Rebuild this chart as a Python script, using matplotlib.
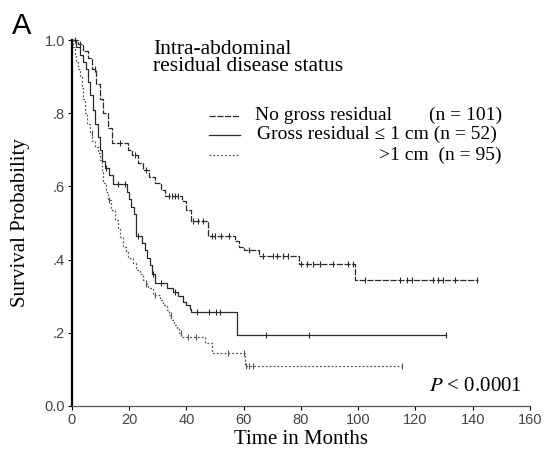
# Kaplan-Meier curves, intra-abdominal residual disease status
import numpy as np
import matplotlib
matplotlib.use("Agg")
import matplotlib.pyplot as plt

plt.rcParams['font.family'] = ['Liberation Serif', 'DejaVu Serif']
plt.rcParams['mathtext.fontset'] = 'stix'

# No gross residual (n = 101)
t_none = [0, 2, 4, 5.5, 7, 8.5, 10, 11, 12.5, 14, 19.5, 21, 23, 25, 27, 29, 31, 32.5,
          38.5, 40, 41.5, 47.5, 57, 58.5, 60.3, 65.3, 79.5, 99]
s_none = [1.0, 0.99, 0.97, 0.95, 0.92, 0.88, 0.84, 0.80, 0.76, 0.72, 0.70, 0.685, 0.665,
          0.645, 0.625, 0.61, 0.59, 0.575, 0.56, 0.535, 0.505, 0.465, 0.45, 0.435, 0.425,
          0.41, 0.388, 0.345]
end_none = 142
cens_none = [3, 8, 17, 22, 26, 34, 35, 36, 37, 42.5, 44, 46, 49, 50, 52, 55, 62, 66.8,
             70.3, 71.6, 73.7, 75.5, 80.2, 82, 84.3, 86.6, 91.2, 96.4, 98.2, 102.4, 114.6,
             116.9, 118.7, 126.1, 127.9, 129.6, 133.8, 141.5]

# Gross residual <= 1 cm (n = 52)
t_small = [0, 1.5, 3, 4, 5, 5.7, 6.5, 7.3, 8.2, 9, 9.8, 10.6, 11.5, 13, 14.5, 19.2, 20,
           20.8, 21.6, 22.6, 24.5, 25.5, 26.3, 27.2, 28, 29, 33.4, 35.3, 37, 38.8, 40,
           41.2, 41.8, 57.8]
s_small = [1.0, 0.98, 0.96, 0.94, 0.92, 0.885, 0.85, 0.81, 0.77, 0.735, 0.70, 0.67, 0.65,
           0.63, 0.607, 0.585, 0.565, 0.545, 0.525, 0.465, 0.445, 0.425, 0.405, 0.385,
           0.36, 0.337, 0.322, 0.31, 0.30, 0.285, 0.275, 0.265, 0.256, 0.194]
end_small = 130.7
cens_small = [1, 12, 16, 18.5, 23, 28.5, 31, 36, 43.6, 47.9, 50.5, 51.7, 68, 83, 130.7]

# > 1 cm (n = 95)
t_big = [0, 0.5, 1, 1.6, 2.2, 2.8, 3.4, 4, 4.5, 5.2, 6.3, 7.2, 8, 9, 9.8, 10.4, 10.9,
         11.8, 12.7, 13.8, 15, 16, 16.8, 17.9, 18.8, 19.7, 21.4, 22.6, 23.8, 24.9, 26,
         26.7, 28.4, 30.7, 32, 33.1, 34, 34.8, 35.7, 36.6, 37.5, 38.3, 46.5, 48.8, 60.4]
s_big = [1.0, 0.98, 0.96, 0.94, 0.92, 0.90, 0.87, 0.84, 0.80, 0.77, 0.745, 0.725, 0.709,
         0.69, 0.672, 0.64, 0.608, 0.585, 0.563, 0.535, 0.508, 0.485, 0.463, 0.435, 0.42,
         0.403, 0.39, 0.372, 0.36, 0.344, 0.333, 0.322, 0.303, 0.29, 0.275, 0.262, 0.248,
         0.235, 0.222, 0.212, 0.20, 0.188, 0.172, 0.144, 0.11]
end_big = 115.2
cens_big = [7, 13, 26, 29, 34.5, 38.2, 40.5, 43.4, 54.5, 60, 61, 62, 63.3, 115.2]

xticks = [0, 20, 40, 60, 80, 100, 120, 140, 160]
yticks = [0.0, 0.2, 0.4, 0.6, 0.8, 1.0]
ytick_labels = ["0.0", ".2", ".4", ".6", ".8", "1.0"]

fig = plt.figure(figsize=(5.48, 4.66), dpi=100)
ax = fig.add_axes([0.131, 0.129, 0.836, 0.785])

def km(t, s, end, cens, ls, color):
    tt = list(t) + [end]
    ss = list(s) + [s[-1]]
    ax.step(tt, ss, where='post', color=color, lw=0.9, linestyle=ls, clip_on=False)
    # censored marks sit on the curve
    idx = np.searchsorted(t, cens, side='right') - 1
    cy = np.array(s)[idx]
    ax.plot(cens, cy, linestyle='none', marker='|', ms=5, mew=0.8, color=color,
            clip_on=False)

km(t_none, s_none, end_none, cens_none, (0, (5, 1.2)), '#2a2a2a')
km(t_small, s_small, end_small, cens_small, '-', '#2a2a2a')
km(t_big, s_big, end_big, cens_big, (0, (1.5, 1.6)), '#555555')

ax.set_xlim(0, 160)
ax.set_ylim(0, 1.0)
ax.set_xticks(xticks)
ax.set_yticks(yticks)
ax.set_yticklabels(ytick_labels)
for lab in ax.get_xticklabels() + ax.get_yticklabels():
    lab.set_family('Liberation Sans')
    lab.set_color('#444444')
ax.tick_params(labelsize=10.5, length=3, width=0.8, pad=2)
ax.spines['top'].set_visible(False)
ax.spines['right'].set_visible(False)
ax.spines['left'].set_linewidth(1.6)
ax.spines['bottom'].set_linewidth(0.9)
ax.spines['bottom'].set_color('#555555')

ax.set_xlabel("Time in Months", fontsize=15, labelpad=2)
ax.set_ylabel("Survival Probability", fontsize=15, labelpad=10)

# heading and legend
ax.text(0.177, 1.0, "Intra-abdominal\nresidual disease status", transform=ax.transAxes,
        fontsize=15.5, va='top', ha='left', linespacing=0.88)

rows = [0.793, 0.741, 0.686]
styles = [((0, (5, 1.2)), '#2a2a2a'), ('-', '#2a2a2a'), ((0, (1.5, 1.6)), '#555555')]
for y, (ls, c) in zip(rows, styles):
    ax.plot([0.299, 0.367], [y, y], transform=ax.transAxes, color=c, lw=0.9,
            linestyle=ls, clip_on=False)
ax.text(0.40, rows[0], "No gross residual", transform=ax.transAxes, fontsize=14,
        va='center', ha='left')
ax.text(0.939, rows[0], "(n = 101)", transform=ax.transAxes, fontsize=14,
        va='center', ha='right')
ax.text(0.404, rows[1], "Gross residual \u2264 1 cm (n = 52)", transform=ax.transAxes,
        fontsize=14, va='center', ha='left')
ax.text(0.939, rows[2], ">1 cm  (n = 95)", transform=ax.transAxes, fontsize=14,
        va='center', ha='right')

ax.text(0.983, 0.04, "$P$ < 0.0001", transform=ax.transAxes, fontsize=15,
        va='baseline', ha='right')

fig.text(0.022, 0.926, "A", fontsize=21, family='Liberation Sans', va='baseline')

fig.savefig("out.png", dpi=100)
